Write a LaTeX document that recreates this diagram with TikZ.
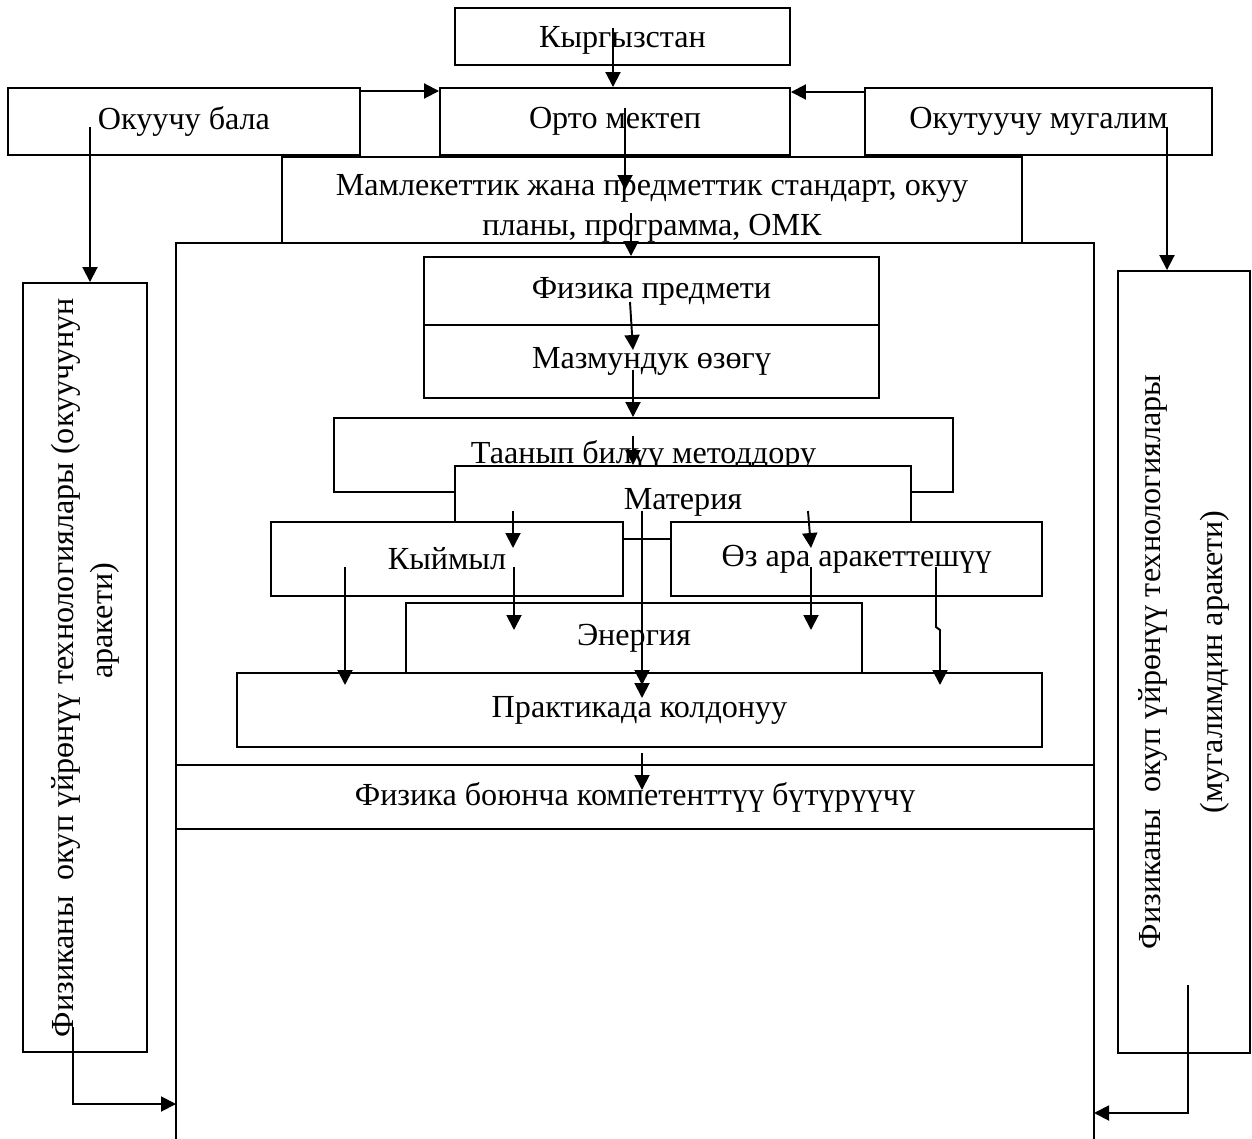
\documentclass[tikz,border=0pt]{standalone}
\usepackage{fontspec}
\setmainfont{Liberation Serif}
\usetikzlibrary{arrows.meta}

\tikzset{
  dims/.style 2 args={minimum width=#1*0.02cm, minimum height=#2*0.02cm},
  box/.style={draw, fill=white, inner sep=0pt},
}

\begin{document}
\begin{tikzpicture}[>={Triangle[length=3mm,width=3mm]},x=0.02cm,y=-0.02cm,line width=1.1pt,
  every node/.style={font=\fontsize{18.3}{22}\selectfont}]
\useasboundingbox (0,0) rectangle (1252,1139);
% outer frame
\coordinate (fl) at (176,1139);
\coordinate (fr) at (1094,1139);
\draw (fl) -- (176,243) -- (1094,243) -- (fr);
% top row
\node[box,dims={352}{67}] (bala) at (184,121.5) {Окуучу бала};
\node[box,dims={350}{67}] (orto) at (615,121.5) {Орто мектеп};
\node[box,dims={347}{67}] (mugalim) at (1038.5,121.5) {Окутуучу мугалим};
\node[box,dims={335}{57},text depth=0pt] (kyrg) at (622.5,36.5) {Кыргызстан};
\node[box,dims={740}{86},align=center] (standart) at (652,200)
  {\rule{0pt}{22pt}Мамлекеттик жана предметтик стандарт, окуу\\[0.7pt]планы, программа, ОМК};
\node[box,dims={918}{64}] (bytyryy) at (635,797) {Физика боюнча компетенттүү бүтүрүүчү};
% inner blocks
\node[box,dims={455}{68}] (predmet) at (651.5,291) {Физика предмети};
\node[box,dims={455}{73}] (ozok) at (651.5,361.5) {Мазмундук өзөгү};
\node[box,dims={619}{74}] (metod) at (643.5,455) {Таанып билүү методдору};
\node[box,dims={456}{73}] (materiya) at (683,502.5) {Материя};
\node[box,dims={352}{74}] (kyimyl) at (447,559) {Кыймыл};
\node[box,dims={371}{74}] (ozara) at (856.5,559) {Өз ара аракеттешүү};
\node[box,dims={456}{70}] (energiya) at (634,638) {Энергия};
\node[box,dims={805}{74}] (praktika) at (639.5,710) {Практикада колдонуу};
% side blocks
\node[box,dims={769}{124},rotate=90,align=center] (okuuchu) at (85,667.5)
  {Физиканы~ окуп үйрөнүү технологиялары (окуучунун\\\hspace*{2.9em}аракети)};
\node[box,dims={782}{132},rotate=90,align=center] (mugal) at (1184,662)
  {Физиканы~ окуп үйрөнүү технологиялары\\[13pt](мугалимдин аракети)};
% arrow ends
\coordinate (a1) at (613,28);
\coordinate (a2) at (625,108);   \coordinate (b2) at (625,190);
\coordinate (a3) at (631,213);
\coordinate (a4) at (630,302);   \coordinate (b4) at (633,350);
\coordinate (a5) at (633,370);
\coordinate (a6) at (633,436);
\coordinate (a7) at (642,511);   \coordinate (b7) at (642,685); \coordinate (c7) at (642,698);
\coordinate (a8) at (513,511);   \coordinate (b8) at (513,548);
\coordinate (a9) at (808,511);   \coordinate (b9) at (811,548);
\coordinate (a10) at (514,567);  \coordinate (b10) at (514,630);
\coordinate (a11) at (811,567);  \coordinate (b11) at (811,630);
\coordinate (a12) at (345,567);  \coordinate (b12) at (345,685);
\coordinate (a13) at (936,567);  \coordinate (b13) at (940,685);
\coordinate (a14) at (642,753);  \coordinate (b14) at (642,790);
\coordinate (a15) at (90,127);
\coordinate (a16) at (1167,127);
\coordinate (a17) at (73,1027);  \coordinate (b17) at (73,1104);
\coordinate (a18) at (1188,985); \coordinate (b18) at (1188,1113);
% arrows
\draw[->] (bala.east |- 0,91) -- (orto.west |- 0,91);
\draw[->] (mugalim.west |- 0,92) -- (orto.east |- 0,92);
\draw[->] (a1) -- (a1 |- orto.north);
\draw[->] (a2) -- (b2);
\draw[->] (a3) -- (a3 |- predmet.north);
\draw[->] (a4) -- (b4);
\draw[->] (a5) -- (a5 |- metod.north);
\draw[->] (a6) -- (a6 |- materiya.north);
\draw[->] (a7) -- (c7);
\draw[->] (a7) -- (b7);
\draw[->] (a8) -- (b8);
\draw[->] (a9) -- (b9);
\draw[->] (a10) -- (b10);
\draw[->] (a11) -- (b11);
\draw[->] (a12) -- (b12);
\draw[->] (a13) -- (936,627) -- (940,630) -- (b13);
\draw[->] (a14) -- (b14);
\draw[->] (a15) -- (a15 |- okuuchu.east);
\draw[->] (a16) -- (a16 |- mugal.east);
\draw[->] (a17) -- (b17) -- (b17 -| fl);
\draw[->] (a18) -- (b18) -- (b18 -| fr);
\end{tikzpicture}
\end{document}
